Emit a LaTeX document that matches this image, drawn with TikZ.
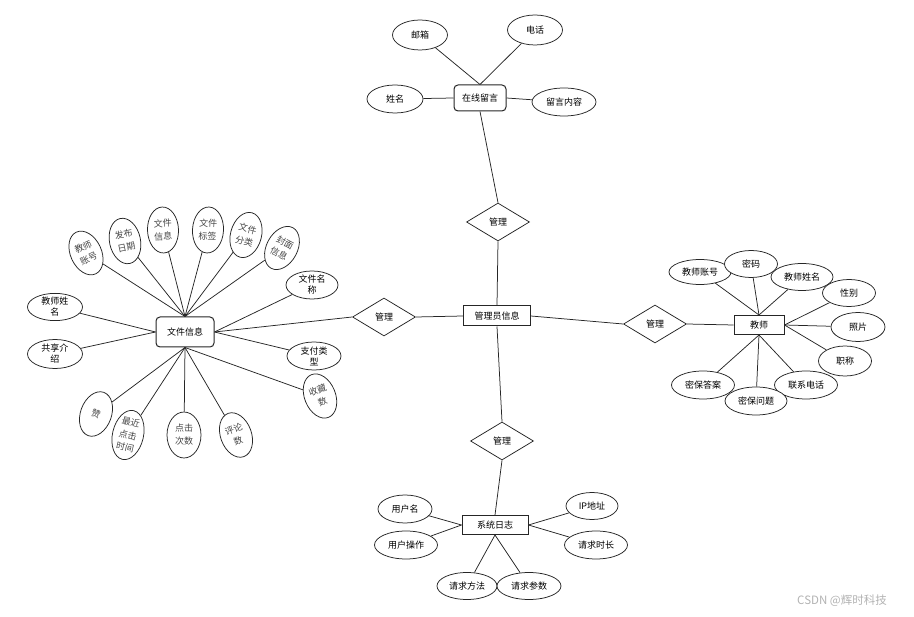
\documentclass[tikz,border=0pt]{standalone}
\usepackage{fontspec}
\newfontfamily\cjk{Noto Sans CJK SC}
\usetikzlibrary{
  shapes.geometric,
  backgrounds
}
\colorlet{ink}{black!85}
\colorlet{softInk}{black!72}
\tikzset{
  connector/.style={draw=ink, line width=0.75pt},
  entity/.style={
    rectangle,
    draw=ink,
    fill=white,
    line width=1pt,
    inner sep=0pt,
    font=\cjk\fontsize{9}{11}\selectfont
  },
  roundentity/.style={entity, rounded corners=4pt},
  relation/.style={
    diamond,
    draw=ink,
    fill=white,
    line width=0.75pt,
    minimum width=63pt,
    minimum height=38pt,
    inner sep=0pt,
    font=\cjk\fontsize{9}{11}\selectfont
  },
  attr/.style={
    ellipse,
    draw=ink,
    fill=white,
    line width=0.75pt,
    inner sep=0pt,
    align=center,
    minimum width=54pt,
    minimum height=28pt,
    font=\cjk\fontsize{9}{11}\selectfont
  },
  tilted/.style={
    attr,
    minimum width=31pt,
    minimum height=46pt,
    text=softInk,
    font=\cjk\fontsize{9}{13}\selectfont
  },
  watermark/.style={font=\cjk\fontsize{11.5}{13}\selectfont, text=black!30}
}

\begin{document}
\begin{tikzpicture}[x=1pt,y=-1pt]
  \useasboundingbox (0,0) rectangle (914,617);

  % online message
  \node[roundentity, minimum width=52pt, minimum height=26pt] (msg) at (480,98) {在线留言};
  \node[attr, minimum width=55pt, minimum height=30pt] (mail) at (420,35) {邮箱};
  \node[attr, minimum width=55pt, minimum height=30pt] (phone) at (535,30) {电话};
  \node[attr, minimum width=56pt] (guestName) at (395,99) {姓名};
  \node[attr, minimum width=64pt] (msgText) at (564,102) {留言内容};

  % admin and relations
  \node[entity, minimum width=67pt, minimum height=20pt] (admin) at (497,316) {管理员信息};
  \node[relation] (relTop) at (498,222) {管理};
  \node[relation] (relLeft) at (384,317) {管理};
  \node[relation] (relRight) at (655,324) {管理};
  \node[relation] (relBottom) at (502,441) {管理};

  % teacher
  \node[entity, minimum width=50pt, minimum height=19pt] (teacher) at (759,325) {教师};
  \node[attr, minimum width=62pt, minimum height=25pt] (tNo) at (700,272) {教师账号};
  \node[attr, minimum width=53pt, minimum height=27pt] (tPwd) at (751,264) {密码};
  \node[attr, minimum width=62pt, minimum height=27pt] (tName) at (802,277) {教师姓名};
  \node[attr, minimum width=53pt, minimum height=27pt] (tSex) at (849,293) {性别};
  \node[attr, minimum width=54pt, minimum height=29pt] (tPhoto) at (858,327) {照片};
  \node[attr, minimum width=53pt, minimum height=30pt] (tTitle) at (845,361) {职称};
  \node[attr, minimum width=63pt] (tAnswer) at (703,385) {密保答案};
  \node[attr, minimum width=63pt] (tTel) at (806,385) {联系电话};
  \node[attr, minimum width=62pt] (tQuestion) at (756,401) {密保问题};

  % system log
  \node[entity, minimum width=66pt, minimum height=19pt] (sysLog) at (495,525) {系统日志};
  \node[attr] (uName) at (405,509) {用户名};
  \node[attr, minimum width=63pt] (uAction) at (406,545) {用户操作};
  \node[attr, minimum width=52pt, minimum height=27pt] (ipAddr) at (592,506) {IP地址};
  \node[attr, minimum width=63pt] (reqTime) at (596,545) {请求时长};
  \node[attr, minimum width=60pt, minimum height=27pt] (reqMethod) at (467,586) {请求方法};
  \node[attr, minimum width=64pt, minimum height=27pt] (reqParam) at (529,586) {请求参数};

  % file info
  \node[roundentity, minimum width=58pt, minimum height=30pt] (file) at (185,332) {文件信息};
  \node[tilted, rotate=25] (fAccount) at (86,253) {教师\\账号};
  \node[tilted, rotate=12] (fDate) at (125,241) {发布\\日期};
  \node[tilted, rotate=2] (fInfo) at (163,230) {文件\\信息};
  \node[tilted, rotate=-3] (fTag) at (208,230) {文件\\标签};
  \node[tilted, rotate=-15] (fCat) at (246,235) {文件\\分类};
  \node[tilted, rotate=-28] (fCover) at (282,248) {封面\\信息};
  \node[attr, minimum width=52pt] (fName) at (312,285) {文件名\\称};
  \node[attr, minimum width=55pt, minimum height=27pt] (fTeacher) at (55,307) {教师姓\\名};
  \node[attr, minimum width=55pt, minimum height=29pt] (fShare) at (55,354) {共享介\\绍};
  \node[attr] (fPay) at (314,356) {支付类\\型};
  \node[tilted, rotate=22] (fFav) at (320,396) {收藏\\数};
  \node[tilted, rotate=-20] (fLike) at (96,414) {赞};
  \node[tilted, rotate=-13, minimum height=50pt] (fRecent) at (128,435) {最近\\点击\\时间};
  \node[tilted, minimum width=34pt] (fClick) at (184,435) {点击\\次数};
  \node[tilted, rotate=20] (fComment) at (236,435) {评论\\数};

  \node[watermark] (mark) at (842,601) {CSDN @辉时科技};

  \begin{scope}[on background layer]
    \draw[connector] (mail) -- (msg.north);
    \draw[connector] (phone) -- (msg.north);
    \draw[connector] (guestName) -- (msg.west);
    \draw[connector] (msgText) -- (msg.east);
    \draw[connector] (msg.south) -- (relTop.north);
    \draw[connector] (relTop.south) -- (admin.north);
    \draw[connector] (admin.south) -- (relBottom.north);
    \draw[connector] (relBottom.south) -- (sysLog.north);
    \draw[connector] (relLeft.east) -- (admin.west);
    \draw[connector] (relLeft.west) -- (file.east);
    \draw[connector] (admin.east) -- (relRight.west);
    \draw[connector] (relRight.east) -- (teacher.west);

    \foreach \a in {tNo,tPwd,tName} \draw[connector] (\a) -- (teacher.north);
    \foreach \a in {tSex,tPhoto,tTitle} \draw[connector] (\a) -- (teacher.east);
    \foreach \a in {tAnswer,tQuestion,tTel} \draw[connector] (\a) -- (teacher.south);

    \foreach \a in {uName,uAction} \draw[connector] (\a) -- (sysLog.west);
    \foreach \a in {ipAddr,reqTime} \draw[connector] (\a) -- (sysLog.east);
    \foreach \a in {reqMethod,reqParam} \draw[connector] (\a) -- (sysLog.south);

    \foreach \a in {fAccount,fDate,fInfo,fTag,fCat,fCover} \draw[connector] (\a) -- (file.north);
    \foreach \a in {fName,fPay} \draw[connector] (\a) -- (file.east);
    \foreach \a in {fTeacher,fShare} \draw[connector] (\a) -- (file.west);
    \foreach \a in {fFav,fLike,fRecent,fClick,fComment} \draw[connector] (\a) -- (file.south);
  \end{scope}
\end{tikzpicture}
\end{document}
